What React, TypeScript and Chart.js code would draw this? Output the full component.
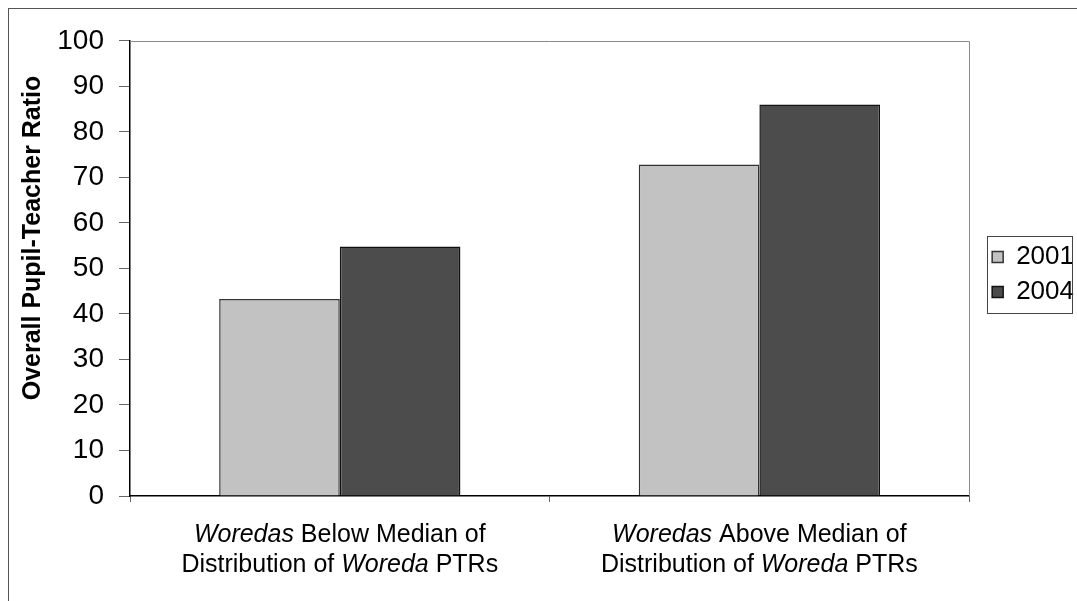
import React, { useEffect, useRef } from "react";
import { Chart, registerables } from "chart.js";

Chart.register(...registerables);

// ---- data ----
const categoryLines = [
  ["*Woredas* Below Median of", "Distribution of *Woreda* PTRs"],
  ["*Woredas* Above Median of", "Distribution of *Woreda* PTRs"],
];
const seriesNames = ["2001", "2004"];
const values2001 = [43.3, 72.8];
const values2004 = [54.8, 86.0];
const yMin = 0;
const yMax = 100;
const yStep = 10;
const yTitle = "Overall Pupil-Teacher Ratio";

const FONT = '"Liberation Sans", Arial, Helvetica, sans-serif';

const plainLabels = categoryLines.map((ls) => ls.map((l) => l.replace(/\*/g, "")));

function drawMixedLine(ctx: CanvasRenderingContext2D, text: string, cx: number, cy: number, size: number) {
  const parts = text.split("*");
  const segs = parts.map((t, i) => ({ t, italic: i % 2 === 1 })).filter((s) => s.t.length > 0);
  let total = 0;
  const widths: number[] = [];
  for (const s of segs) {
    ctx.font = `${s.italic ? "italic " : ""}${size}px ${FONT}`;
    const w = ctx.measureText(s.t).width;
    widths.push(w);
    total += w;
  }
  let x = cx - total / 2;
  ctx.textAlign = "left";
  ctx.textBaseline = "middle";
  segs.forEach((s, i) => {
    ctx.font = `${s.italic ? "italic " : ""}${size}px ${FONT}`;
    ctx.fillText(s.t, x, cy);
    x += widths[i];
  });
}

const decorPlugin = {
  id: "decor",
  afterDraw(chart: any) {
    const ctx: CanvasRenderingContext2D = chart.ctx;
    const { left, right, top, bottom } = chart.chartArea;
    ctx.save();
    // plot area top & right border
    ctx.strokeStyle = "#8a8a8a";
    ctx.lineWidth = 1;
    ctx.beginPath();
    ctx.moveTo(left, Math.round(top) + 0.5);
    ctx.lineTo(Math.round(right) + 0.5, Math.round(top) + 0.5);
    ctx.lineTo(Math.round(right) + 0.5, bottom);
    ctx.stroke();

    // y-axis title
    ctx.save();
    ctx.translate(24, 229);
    ctx.rotate(-Math.PI / 2);
    ctx.fillStyle = "#000";
    ctx.font = `bold 25px ${FONT}`;
    ctx.textAlign = "center";
    ctx.textBaseline = "middle";
    ctx.fillText(yTitle, 0, 0);
    ctx.restore();

    // x category labels with italics
    ctx.fillStyle = "#000";
    const xs = chart.scales.x;
    categoryLines.forEach((lines, i) => {
      const cx = xs.getPixelForValue(i);
      lines.forEach((ln, j) => {
        drawMixedLine(ctx, ln, cx, bottom + 39 + j * 30, 25);
      });
    });

    // legend border box
    const lg = chart.legend;
    const hb = lg && lg.legendHitBoxes;
    if (hb && hb.length) {
      const first = hb[0];
      const last = hb[hb.length - 1];
      const bt = Math.round(first.top - 8) + 0.5;
      const bb = Math.round(last.top + last.height + 8) + 0.5;
      const bl = Math.round(lg.left + 4) + 0.5;
      const br = bl + 85;
      ctx.strokeStyle = "#444";
      ctx.lineWidth = 1;
      ctx.strokeRect(bl, bt, br - bl, bb - bt);
    }
    ctx.restore();
  },
};

export default function App() {
  const ref = useRef<HTMLCanvasElement | null>(null);
  useEffect(() => {
    if (!ref.current) return;
    const chart = new Chart(ref.current, {
      type: "bar",
      data: {
        labels: plainLabels,
        datasets: [
          {
            label: seriesNames[0],
            data: values2001,
            backgroundColor: "#c2c2c2",
            borderColor: "#333",
            borderWidth: 1.5,
            categoryPercentage: 0.575,
            barPercentage: 1,
          },
          {
            label: seriesNames[1],
            data: values2004,
            backgroundColor: "#4c4c4c",
            borderColor: "#111",
            borderWidth: 1.5,
            categoryPercentage: 0.575,
            barPercentage: 1,
          },
        ],
      },
      options: {
        responsive: false,
        animation: false,
        layout: { padding: { left: 0, top: 23, right: -7, bottom: 84 } },
        plugins: {
          tooltip: { enabled: false },
          legend: {
            position: "right",
            labels: {
              font: { family: FONT, size: 26 },
              color: "#000",
              boxWidth: 11,
              boxHeight: 11,
              padding: 9,
            },
          },
        },
        scales: {
          x: {
            grid: { display: true, drawOnChartArea: false, tickLength: 6, color: "#666" },
            border: { display: true, color: "#000", width: 1.5 },
            ticks: { display: false },
            afterFit: (s: any) => {
              s.height = 21;
            },
          },
          y: {
            min: yMin,
            max: yMax,
            ticks: {
              stepSize: yStep,
              color: "#000",
              padding: 15,
              font: { family: FONT, size: 28 },
            },
            grid: { display: true, drawOnChartArea: false, tickLength: 11, color: "#666" },
            border: { display: true, color: "#000", width: 1.5 },
            afterFit: (s: any) => {
              s.width = 121;
            },
          },
          sp: {
            type: "linear",
            position: "right",
            display: true,
            grid: { display: false },
            border: { display: false },
            ticks: { display: false },
            afterFit: (s: any) => {
              s.width = 14;
            },
          },
        },
      } as any,
      plugins: [decorPlugin],
    });
    return () => chart.destroy();
  }, []);

  return (
    <div
      style={{
        position: "fixed",
        left: 8,
        top: 8,
        width: 1068,
        height: 592,
        borderLeft: "1px solid #555",
        borderTop: "1px solid #555",
        background: "#fff",
      }}
    >
      <canvas ref={ref} width={1068} height={592} style={{ display: "block" }} />
    </div>
  );
}
